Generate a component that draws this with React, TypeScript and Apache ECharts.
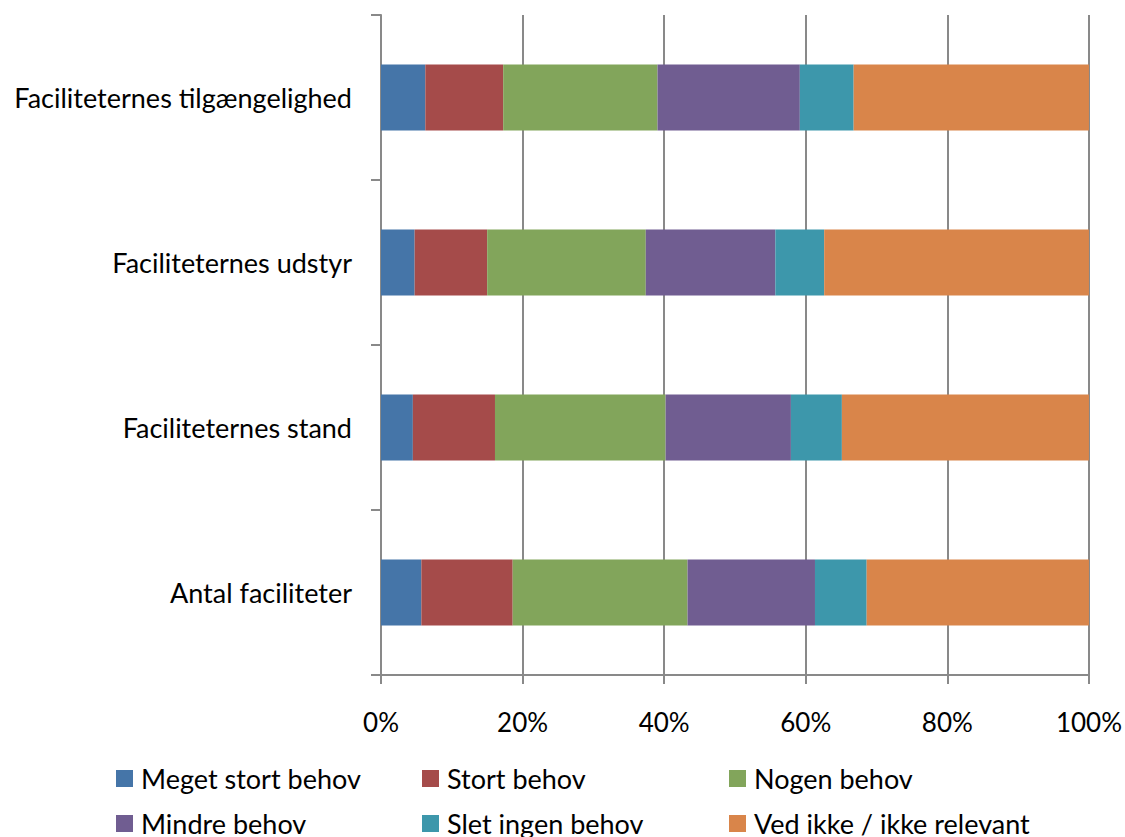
import React, { useEffect, useRef } from "react";
import * as echarts from "echarts";

const categories = [
  "Antal faciliteter",
  "Faciliteternes stand",
  "Faciliteternes udstyr",
  "Faciliteternes tilgængelighed",
];
const seriesNames = [
  "Meget stort behov",
  "Stort behov",
  "Nogen behov",
  "Mindre behov",
  "Slet ingen behov",
  "Ved ikke / ikke relevant",
];
const megetStort = [5.7, 4.5, 4.75, 6.26];
const stort = [12.9, 11.6, 10.25, 11.0];
const nogen = [24.7, 24.1, 22.4, 21.8];
const mindre = [18.0, 17.7, 18.3, 20.1];
const slet = [7.3, 7.2, 6.9, 7.6];
const vedIkke = [31.4, 34.9, 37.4, 33.24];
const xTicks = [0, 20, 40, 60, 80, 100];

const colors = ["#4575A8", "#A54B4A", "#82A55B", "#705D91", "#3D97AB", "#D9854A"];
const FONT = "Lato";
const AXIS_COLOR = "#898989";

const legendLefts = [116, 422, 729];
const legendTops = [765, 810];

export default function App() {
  const ref = useRef<HTMLDivElement>(null);
  useEffect(() => {
    if (!ref.current) return;
    const chart = echarts.init(ref.current, null, { renderer: "svg" });
    const values = [megetStort, stort, nogen, mindre, slet, vedIkke];
    const legends = seriesNames.map((name, i) => ({
      orient: "horizontal",
      left: legendLefts[i % 3],
      top: legendTops[Math.floor(i / 3)],
      padding: 0,
      itemWidth: 17,
      itemHeight: 17,
      icon: "rect",
      data: [name],
      textStyle: {
        fontFamily: FONT,
        fontSize: 27,
        color: "#000",
        padding: [0, 0, 0, 3],
      },
    }));
    chart.setOption({
      animation: false,
      color: colors,
      textStyle: { fontFamily: FONT },
      grid: { left: 381, right: 35, top: 15, bottom: 162, containLabel: false },
      xAxis: {
        type: "value",
        min: xTicks[0],
        max: xTicks[xTicks.length - 1],
        interval: 20,
        axisLine: { show: true, lineStyle: { color: AXIS_COLOR, width: 2 } },
        axisTick: { show: true, length: 9, inside: false, lineStyle: { color: AXIS_COLOR, width: 2 } },
        splitLine: { show: true, lineStyle: { color: AXIS_COLOR, width: 2 } },
        axisLabel: {
          formatter: "{value}%",
          fontFamily: FONT,
          fontSize: 26,
          color: "#000",
          margin: 34,
        },
      },
      yAxis: {
        type: "category",
        data: categories,
        axisLine: { show: true, lineStyle: { color: AXIS_COLOR, width: 2 } },
        axisTick: { show: true, length: 10, lineStyle: { color: AXIS_COLOR, width: 2 } },
        axisLabel: { fontFamily: FONT, fontSize: 27, color: "#000", margin: 29 },
      },
      legend: legends,
      series: seriesNames.map((name, i) => ({
        name,
        type: "bar",
        stack: "total",
        barWidth: "40%",
        data: values[i],
        itemStyle: { color: colors[i] },
      })),
    });
    return () => chart.dispose();
  }, []);
  return (
    <div
      ref={ref}
      style={{ position: "fixed", left: 0, top: 0, width: 1125, height: 837, background: "#fff" }}
    />
  );
}
